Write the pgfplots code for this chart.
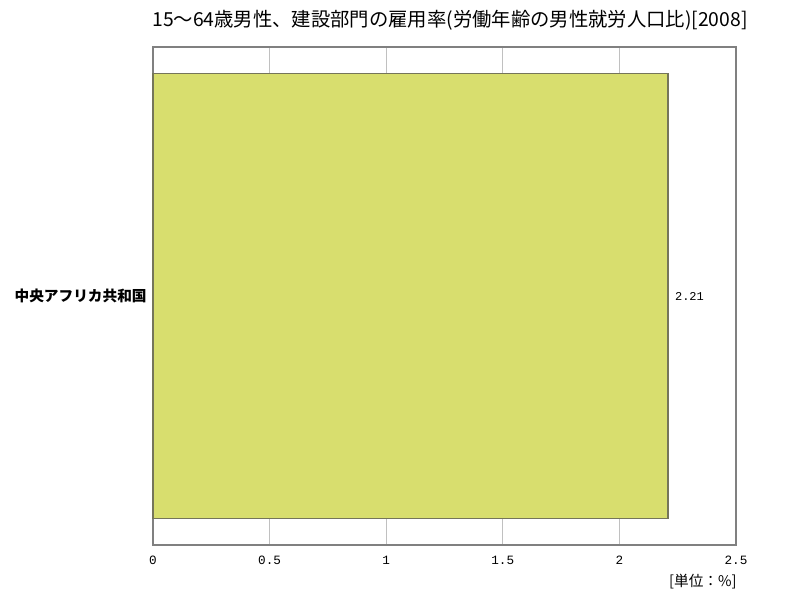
\documentclass[border=0pt]{standalone}
\usepackage{fontspec}
\setmainfont{Noto Sans CJK JP}
\newfontfamily\cjk{Noto Sans CJK JP}
\newfontfamily\mono{Liberation Mono}
\usepackage{pgfplots}
\pgfplotsset{compat=1.18}
\definecolor{barfill}{HTML}{D8DE6E}
\definecolor{baredge}{HTML}{75755A}
\definecolor{frame}{HTML}{808080}
\definecolor{gridc}{HTML}{C0C0C0}
\begin{document}
\begin{tikzpicture}
% 1 px of the 800x600 reference = 0.75pt
\path[use as bounding box] (0pt,0pt) rectangle (600pt,450pt);
\begin{axis}[
  at={(114.75pt,41.25pt)}, anchor=south west,
  scale only axis,
  width=437.25pt, height=373.5pt,
  xbar,
  xmin=0, xmax=2.5,
  ymin=-0.5, ymax=0.5,
  xtick={0,0.5,1,1.5,2,2.5},
  xticklabels={0,0.5,1,1.5,2,2.5},
  ytick={0},
  yticklabels={中央アフリカ共和国},
  xmajorgrids,
  major grid style={gridc, line width=0.8pt},
  axis line style={frame, line width=1.2pt},
  tick style={draw=none},
  x tick label style={font=\mono\fontsize{9.5}{10}\selectfont, yshift=-5pt},
  y tick label style={font=\cjk\bfseries\fontsize{11}{12}\selectfont, xshift=3pt},
  bar width=333.75pt,
  nodes near coords,
  nodes near coords style={font=\mono\fontsize{9}{10}\selectfont, anchor=west, xshift=1pt},
  point meta=explicit symbolic,
  clip=false,
]
\addplot[fill=barfill, draw=baredge, line width=1.4pt] coordinates {(2.21,0) [2.21]};
\end{axis}
\node[font=\cjk\fontsize{14.5}{16}\selectfont] at (337.5pt,435pt) {15～64歳男性、建設部門の雇用率(労働年齢の男性就労人口比)[2008]};
\node[font=\cjk\fontsize{11}{13}\selectfont, anchor=east] at (556pt,13.5pt) {[単位：\%]};
\end{tikzpicture}
\end{document}
